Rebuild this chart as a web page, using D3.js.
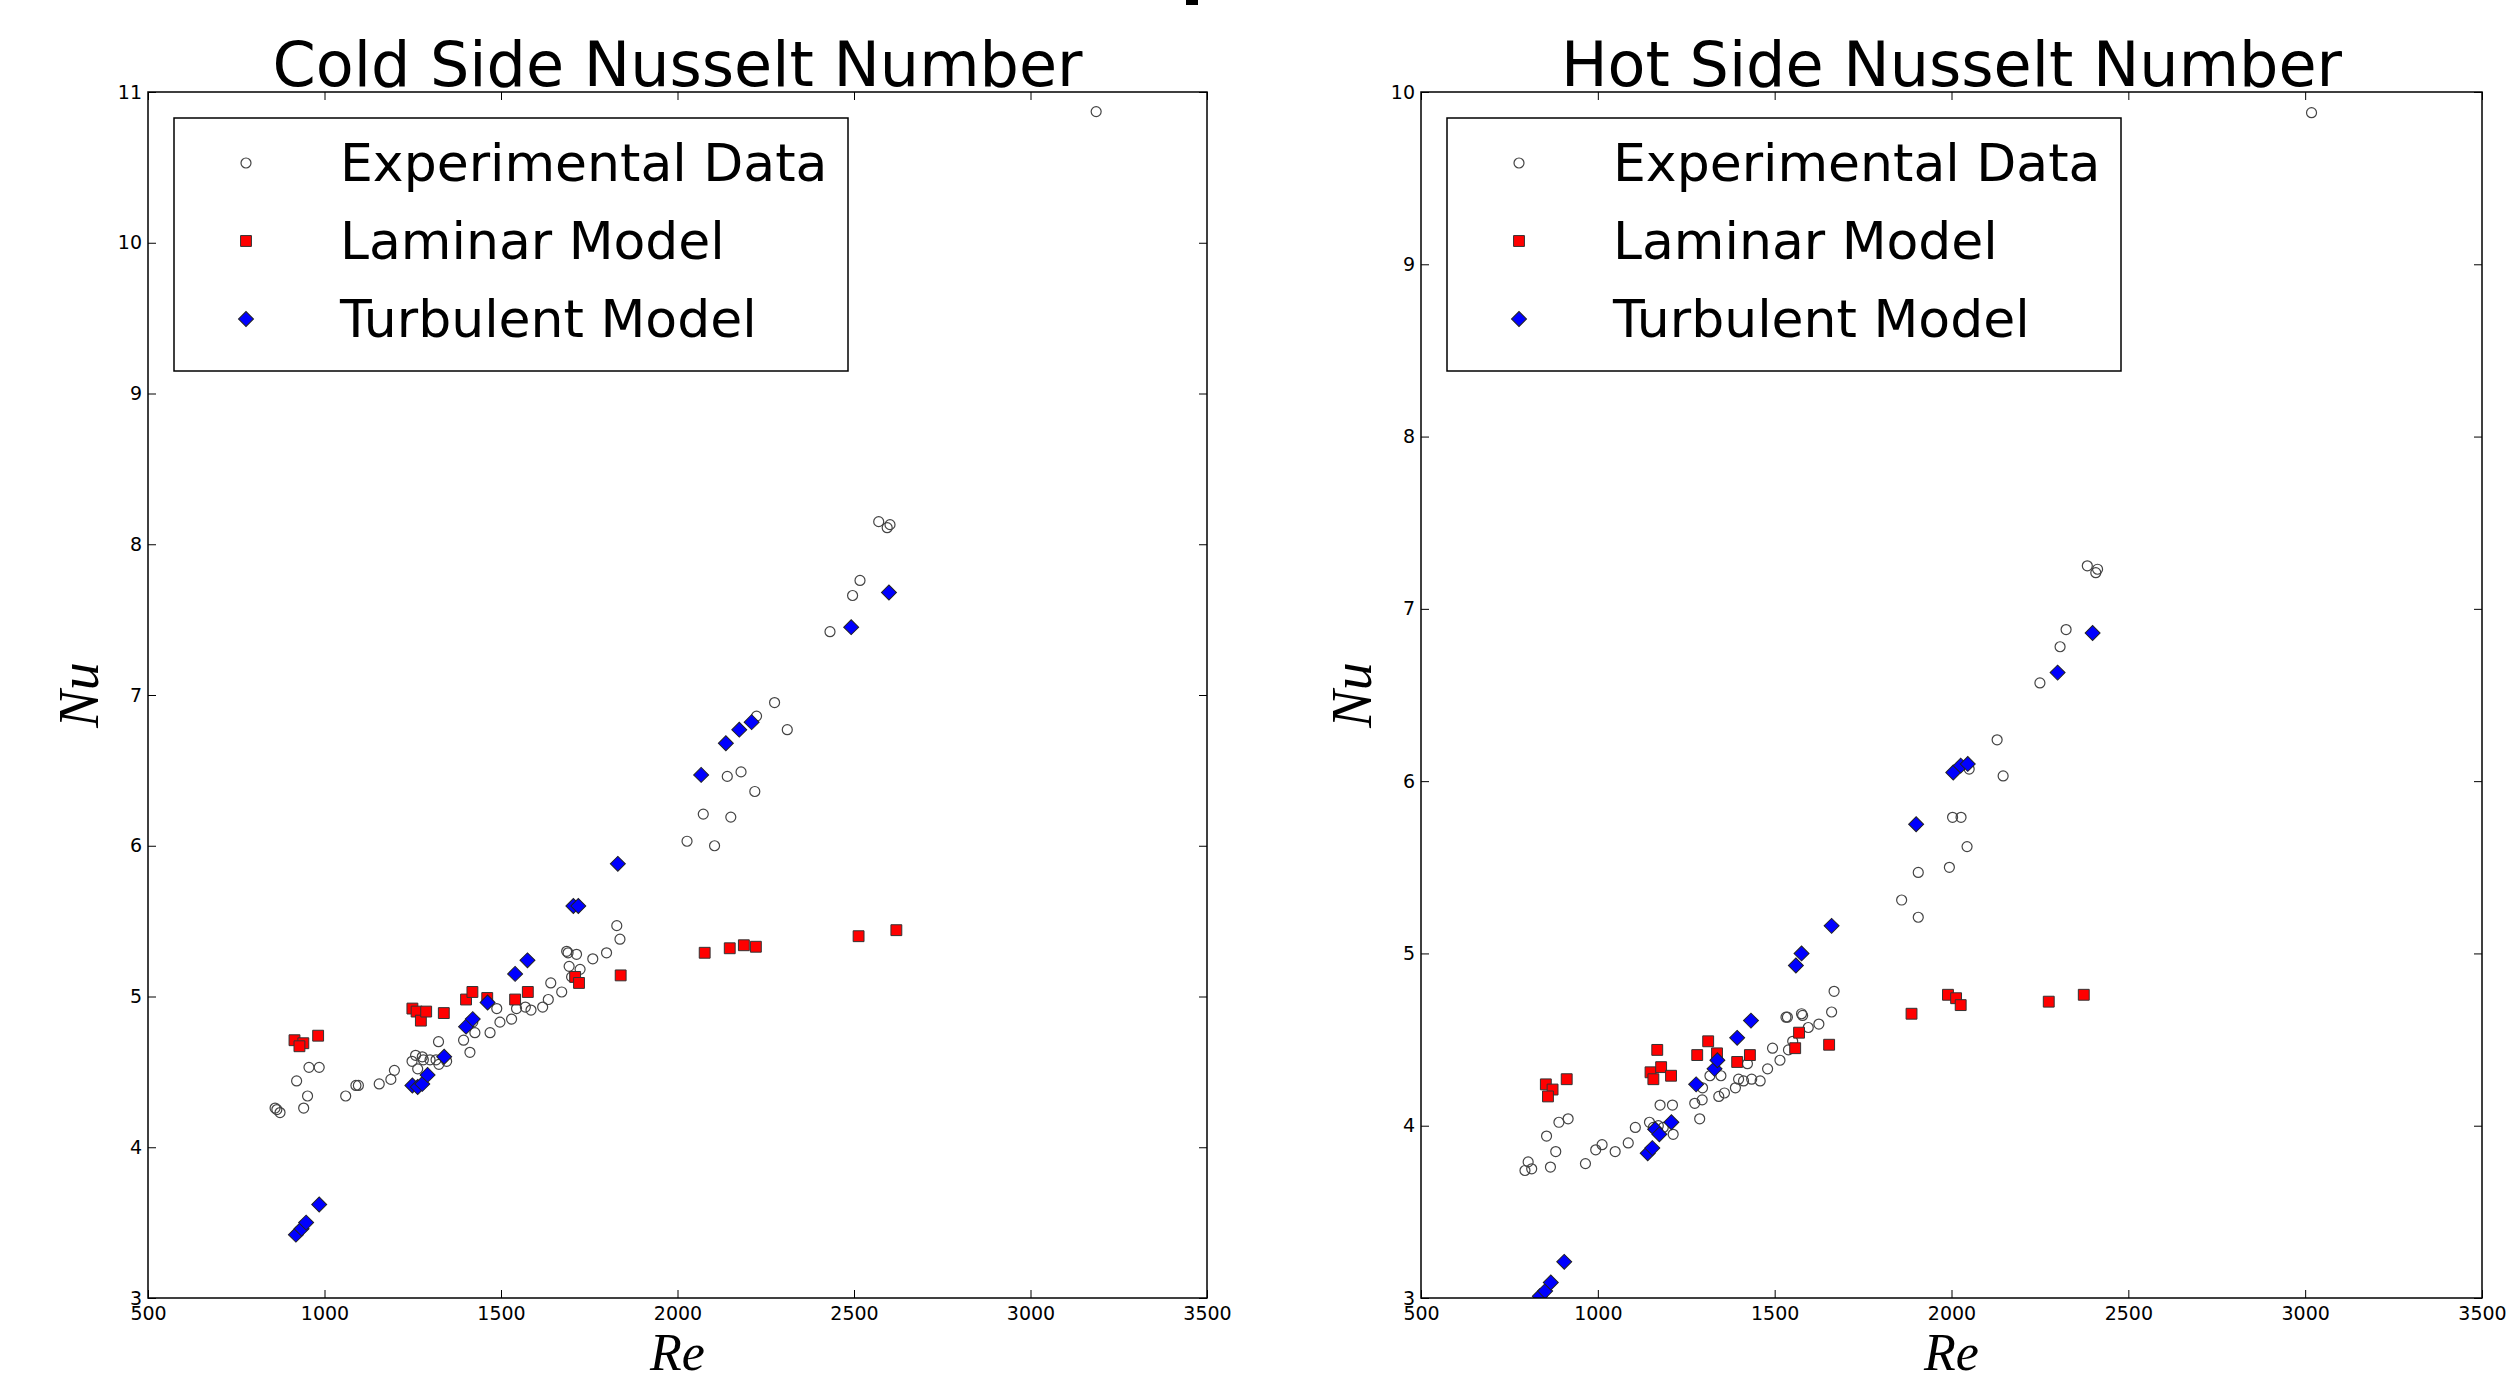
<!DOCTYPE html>
<html>
<head>
<meta charset="utf-8">
<script src="https://cdn.jsdelivr.net/npm/d3@7"></script>
<style>
  body { margin: 0; background: #fff; }
  svg { display: block; }
</style>
</head>
<body>
<div class="chart"></div>
<script>
  var X_TICKS = [500, 1000, 1500, 2000, 2500, 3000, 3500];
  var COLD_Y_TICKS = [3, 4, 5, 6, 7, 8, 9, 10, 11];
  var HOT_Y_TICKS = [3, 4, 5, 6, 7, 8, 9, 10];

  var SERIES_NAMES = ['Experimental Data', 'Laminar Model', 'Turbulent Model'];

  // cold side, [Re, Nu]
  var coldExperimental = [
    [860, 4.26], [865, 4.25], [874, 4.23], [941, 4.26], [952, 4.34], [921, 4.44],
    [956, 4.53], [985, 4.53], [1060, 4.34], [1089, 4.41], [1096, 4.41], [1155, 4.42],
    [1188, 4.45], [1198, 4.51], [1258, 4.61], [1248, 4.57], [1264, 4.52], [1277, 4.60],
    [1280, 4.58], [1299, 4.58], [1316, 4.58], [1324, 4.55], [1346, 4.57], [1323, 4.70],
    [1394, 4.71], [1412, 4.63], [1426, 4.76], [1420, 4.83], [1469, 4.76], [1488, 4.92],
    [1497, 4.83], [1530, 4.85], [1544, 4.92], [1569, 4.93], [1585, 4.91], [1618, 4.93],
    [1634, 4.98], [1641, 5.09], [1672, 5.03], [1686, 5.30], [1690, 5.29], [1714, 5.28],
    [1693, 5.20], [1724, 5.18], [1700, 5.13], [1760, 5.25], [1799, 5.29], [1828, 5.47],
    [1837, 5.38], [2027, 6.03], [2105, 6.00], [2073, 6.21], [2151, 6.19], [2141, 6.46],
    [2180, 6.49], [2219, 6.36], [2224, 6.86], [2275, 6.95], [2311, 6.77], [2432, 7.42],
    [2496, 7.66], [2517, 7.76], [2570, 8.15], [2602, 8.13], [2594, 8.11], [3186, 10.87]
  ];
  var coldLaminar = [
    [915, 4.71], [940, 4.69], [929, 4.67], [982, 4.74], [1249, 4.92], [1261, 4.90],
    [1273, 4.84], [1288, 4.90], [1338, 4.89], [1401, 4.98], [1419, 5.03], [1461, 4.99],
    [1540, 4.98], [1576, 5.03], [1710, 5.13], [1721, 5.09], [1839, 5.14], [2077, 5.29],
    [2148, 5.32], [2188, 5.34], [2222, 5.33], [2513, 5.40], [2620, 5.44]
  ];
  var coldTurbulent = [
    [919, 3.42], [935, 3.46], [948, 3.50], [985, 3.62], [1249, 4.41], [1264, 4.40],
    [1277, 4.42], [1292, 4.48], [1339, 4.60], [1401, 4.80], [1420, 4.85], [1462, 4.96],
    [1540, 5.15], [1575, 5.24], [1705, 5.60], [1719, 5.60], [1831, 5.88], [2067, 6.47],
    [2137, 6.68], [2175, 6.77], [2210, 6.82], [2492, 7.45], [2599, 7.68]
  ];

  // hot side, [Re, Nu]
  var hotExperimental = [
    [794, 3.74], [813, 3.75], [803, 3.79], [866, 3.76], [881, 3.85], [855, 3.94],
    [890, 4.02], [916, 4.04], [965, 3.78], [994, 3.86], [1012, 3.89], [1049, 3.85],
    [1086, 3.90], [1106, 3.99], [1146, 4.02], [1157, 3.99], [1171, 4.00], [1176, 4.12],
    [1211, 4.12], [1185, 3.99], [1213, 3.95], [1274, 4.13], [1295, 4.15], [1288, 4.04],
    [1296, 4.22], [1317, 4.29], [1348, 4.29], [1342, 4.17], [1358, 4.19], [1389, 4.22],
    [1398, 4.27], [1412, 4.26], [1423, 4.36], [1435, 4.27], [1459, 4.26], [1480, 4.33],
    [1494, 4.45], [1515, 4.38], [1532, 4.63], [1536, 4.63], [1576, 4.65], [1579, 4.64],
    [1539, 4.44], [1551, 4.49], [1595, 4.57], [1625, 4.59], [1668, 4.78], [1661, 4.66],
    [1859, 5.31], [1906, 5.47], [1906, 5.21], [1994, 5.50], [2003, 5.79], [2027, 5.79],
    [2044, 5.62], [2050, 6.07], [2129, 6.24], [2146, 6.03], [2250, 6.57], [2307, 6.78],
    [2324, 6.88], [2384, 7.25], [2413, 7.23], [2408, 7.21], [3018, 9.88]
  ];
  var hotLaminar = [
    [853, 4.24], [872, 4.21], [859, 4.17], [912, 4.27], [1168, 4.44], [1149, 4.31],
    [1179, 4.34], [1157, 4.27], [1207, 4.29], [1281, 4.41], [1312, 4.49], [1337, 4.42],
    [1394, 4.37], [1430, 4.41], [1569, 4.54], [1558, 4.45], [1654, 4.47], [1887, 4.65],
    [1990, 4.76], [2013, 4.74], [2026, 4.70], [2275, 4.72], [2374, 4.76]
  ];
  var hotTurbulent = [
    [836, 3.01], [851, 3.04], [867, 3.09], [905, 3.21], [1141, 3.84], [1154, 3.87],
    [1162, 3.98], [1174, 3.95], [1208, 4.02], [1278, 4.24], [1330, 4.33], [1338, 4.38],
    [1394, 4.51], [1433, 4.61], [1560, 4.93], [1576, 5.00], [1661, 5.16], [1900, 5.75],
    [2005, 6.05], [2026, 6.09], [2046, 6.10], [2300, 6.63], [2399, 6.86]
  ];

  var DEFAULTS = {
    width: 2517,
    height: 1381,
    plot_top: 92,
    plot_bottom: 1298,
    tick_len: 8,
    font: '"DejaVu Sans", sans-serif',
    math_font: '"Liberation Serif", "DejaVu Serif", serif'
  };

  var panels = [
    { id: 'cold', title: 'Cold Side Nusselt Number', left: 148, right: 1207,
      yMax: 11, yTicks: COLD_Y_TICKS,
      series: [coldExperimental, coldLaminar, coldTurbulent] },
    { id: 'hot', title: 'Hot Side Nusselt Number', left: 1421, right: 2482,
      yMax: 10, yTicks: HOT_Y_TICKS,
      series: [hotExperimental, hotLaminar, hotTurbulent] }
  ];

  var fmt = d3.format('d');

  // marker drawing: circle (open), square (red), diamond (blue)
  var square = d3.symbol().type(d3.symbolSquare).size(118);
  var diamond = d3.symbol().type(d3.symbolSquare).size(112);

  function drawMarker(sel, kind) {
    if (kind === 0) {
      sel.append('circle').attr('r', 5)
        .attr('fill', 'none').attr('stroke', '#444').attr('stroke-width', 1.2);
    } else if (kind === 1) {
      sel.append('path').attr('d', square)
        .attr('fill', '#ff0000').attr('stroke', '#333').attr('stroke-width', 1);
    } else {
      sel.append('path').attr('d', diamond).attr('transform', 'rotate(45)')
        .attr('fill', '#0000ff').attr('stroke', '#222').attr('stroke-width', 1);
    }
  }

  var svg = d3.select('.chart').append('svg')
    .attr('width', DEFAULTS.width)
    .attr('height', DEFAULTS.height)
    .style('font-family', DEFAULTS.font);

  svg.append('rect').attr('width', DEFAULTS.width).attr('height', DEFAULTS.height).attr('fill', '#fff');

  // stray mark at the top centre of the original figure
  svg.append('rect').attr('x', 1186).attr('y', 0).attr('width', 12).attr('height', 5).attr('fill', '#000');

  var defs = svg.append('defs');

  panels.forEach(function (p) {
    var x = d3.scaleLinear().domain([500, 3500]).range([p.left, p.right]);
    var y = d3.scaleLinear().domain([3, p.yMax]).range([DEFAULTS.plot_bottom, DEFAULTS.plot_top]);
    var g = svg.append('g').attr('class', p.id);
    var w = p.right - p.left, h = DEFAULTS.plot_bottom - DEFAULTS.plot_top;

    defs.append('clipPath').attr('id', 'clip-' + p.id)
      .append('rect').attr('x', p.left).attr('y', DEFAULTS.plot_top).attr('width', w).attr('height', h);

    // axes, ticks pointing inward on all four sides
    var bottom = g.append('g').attr('transform', 'translate(0,' + DEFAULTS.plot_bottom + ')')
      .call(d3.axisBottom(x).tickValues(X_TICKS).tickFormat(fmt)
        .tickSizeInner(-DEFAULTS.tick_len).tickSizeOuter(0).tickPadding(9));
    var left = g.append('g').attr('transform', 'translate(' + p.left + ',0)')
      .call(d3.axisLeft(y).tickValues(p.yTicks).tickFormat(fmt)
        .tickSizeInner(-DEFAULTS.tick_len).tickSizeOuter(0).tickPadding(6));
    var top = g.append('g').attr('transform', 'translate(0,' + DEFAULTS.plot_top + ')')
      .call(d3.axisTop(x).tickValues(X_TICKS).tickSizeInner(-DEFAULTS.tick_len).tickSizeOuter(0).tickFormat(''));
    var right = g.append('g').attr('transform', 'translate(' + p.right + ',0)')
      .call(d3.axisRight(y).tickValues(p.yTicks).tickSizeInner(-DEFAULTS.tick_len).tickSizeOuter(0).tickFormat(''));

    [bottom, left, top, right].forEach(function (a) {
      a.select('.domain').remove();
      a.selectAll('line').attr('stroke', '#000').attr('stroke-width', 1);
      a.selectAll('text').attr('fill', '#000')
        .style('font-family', DEFAULTS.font).style('font-size', '19px');
    });

    // data
    var data = g.append('g').attr('clip-path', 'url(#clip-' + p.id + ')');
    p.series.forEach(function (pts, k) {
      data.append('g').selectAll('g')
        .data(pts)
        .enter().append('g')
        .attr('transform', function (d) { return 'translate(' + x(d[0]) + ',' + y(d[1]) + ')'; })
        .each(function () { drawMarker(d3.select(this), k); });
    });

    // frame
    g.append('rect')
      .attr('x', p.left).attr('y', DEFAULTS.plot_top)
      .attr('width', w).attr('height', h)
      .attr('fill', 'none').attr('stroke', '#000').attr('stroke-width', 1.5);

    // title
    g.append('text')
      .attr('x', (p.left + p.right) / 2).attr('y', 86)
      .attr('text-anchor', 'middle')
      .style('font-size', '62px')
      .text(p.title);

    // axis labels
    g.append('text')
      .attr('x', (p.left + p.right) / 2).attr('y', 1370)
      .attr('text-anchor', 'middle')
      .style('font-family', DEFAULTS.math_font).style('font-style', 'italic').style('font-size', '52px')
      .text('Re');
    g.append('text')
      .attr('transform', 'translate(' + (p.left - 50) + ',' + ((DEFAULTS.plot_top + DEFAULTS.plot_bottom) / 2) + ') rotate(-90)')
      .attr('text-anchor', 'middle')
      .style('font-family', DEFAULTS.math_font).style('font-style', 'italic').style('font-size', '56px')
      .text('Nu');

    // legend
    var lg = g.append('g').attr('transform', 'translate(' + (p.left + 26) + ',118)');
    lg.append('rect').attr('width', 674).attr('height', 253)
      .attr('fill', '#fff').attr('stroke', '#000').attr('stroke-width', 1.5);
    SERIES_NAMES.forEach(function (name, k) {
      var cy = 45 + k * 78;
      var m = lg.append('g').attr('transform', 'translate(72,' + cy + ')');
      drawMarker(m, k);
      lg.append('text').attr('x', 166).attr('y', cy + 18)
        .style('font-size', '52px').text(name);
    });
  });
</script>
</body>
</html>
